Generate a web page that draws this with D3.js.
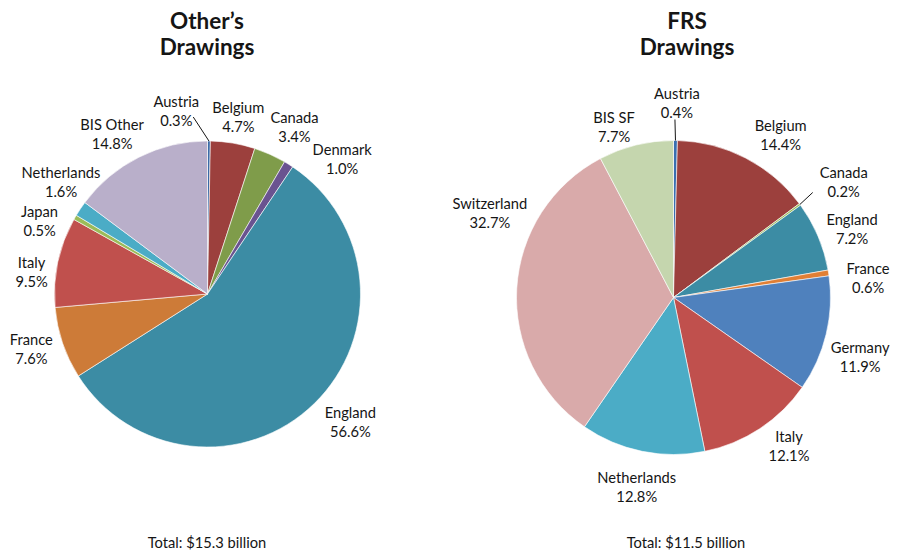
<!DOCTYPE html>
<html>
<head>
<meta charset="utf-8">
<script src="https://cdn.jsdelivr.net/npm/d3@7"></script>
<style>
  body { margin: 0; background: #fff; }
  svg text { font-family: Lato, "Open Sans", sans-serif; fill: #151515; }
</style>
</head>
<body>
<div id="chart"></div>
<script>
// Other's drawings
var otherNames = ["Austria", "Belgium", "Canada", "Denmark", "England", "France", "Italy", "Japan", "Netherlands", "BIS Other"];
var otherValues = [0.3, 4.7, 3.4, 1.0, 56.6, 7.6, 9.5, 0.5, 1.6, 14.8];
var otherColors = ["#3b6aa6", "#9c403d", "#7f9c4a", "#6a5390", "#3c8ca4", "#cd7b38", "#c0504d", "#9bbb59", "#4bacc6", "#b9afca"];

// FRS drawings
var frsNames = ["Austria", "Belgium", "Canada", "England", "France", "Germany", "Italy", "Netherlands", "Switzerland", "BIS SF"];
var frsValues = [0.4, 14.4, 0.2, 7.2, 0.6, 11.9, 12.1, 12.8, 32.7, 7.7];
var frsColors = ["#3a6fb0", "#9c403d", "#9bbb59", "#3c8ca4", "#e07f35", "#4f81bd", "#c0504d", "#4bacc6", "#d9aaaa", "#c5d6ae"];

var titles = [["Other\u2019s", "Drawings"], ["FRS", "Drawings"]];
var totals = ["Total: $15.3 billion", "Total: $11.5 billion"];

var width = 899, height = 560;

var svg = d3.select("#chart")
    .append("svg")
    .attr("width", width)
    .attr("height", height);

// Label nudges (best-fit placement like the original)
var otherLayout = {
    cx: 207.5, cy: 294, r: 153, labelR: 186, titleX: 207, totalX: 207,
    nudge: {"Austria": [-33, 3], "Belgium": [0, 7], "Canada": [11, 3], "Denmark": [36, 23],
            "England": [13, -5], "France": [0, -4], "Italy": [6, 17], "Japan": [-7, 21],
            "Netherlands": [8, -8], "BIS Other": [-12, 7]},
    leader: {"Austria": [17, 6]}
};
var frsLayout = {
    cx: 673.5, cy: 297.5, r: 157, labelR: 194, titleX: 687, totalX: 686,
    nudge: {"Austria": [1, 0], "Belgium": [18, 10], "Canada": [14, 0], "England": [0, 8],
            "France": [3, 11], "Germany": [-2, 15], "Italy": [9, -13], "Netherlands": [2, 0],
            "Switzerland": [10, -72], "BIS SF": [-13, 18]},
    leader: {"Austria": [-2, 16], "Canada": [-31, 10]}
};

function drawPie(names, values, colors, layout, title, total) {
    var data = names.map(function(n, i) { return {name: n, value: values[i]}; });

    var pie = d3.pie().sort(null).value(function(d) { return d.value; });
    var arc = d3.arc().innerRadius(0).outerRadius(layout.r);
    var arcs = pie(data);

    var g = svg.append("g")
        .attr("transform", "translate(" + layout.cx + "," + layout.cy + ")");

    g.selectAll("path")
        .data(arcs)
        .enter()
        .append("path")
        .attr("d", arc)
        .attr("fill", function(d, i) { return colors[i]; })
        .attr("stroke", "#fff")
        .attr("stroke-width", 0.6);

    // Data labels
    arcs.forEach(function(d) {
        var a = (d.startAngle + d.endAngle) / 2;
        var n = layout.nudge[d.data.name] || [0, 0];
        var lx = layout.labelR * Math.sin(a) + n[0];
        var ly = -layout.labelR * Math.cos(a) + n[1];

        var t = g.append("text")
            .attr("text-anchor", "middle")
            .style("font-size", "14.7px");
        t.append("tspan").attr("x", lx).attr("y", ly - 4.5).text(d.data.name);
        t.append("tspan").attr("x", lx).attr("y", ly + 14.5).text(d.data.value.toFixed(1) + "%");

        // Leader line for thin slices
        var ld = layout.leader[d.data.name];
        if (ld) {
            g.append("line")
                .attr("x1", lx + ld[0])
                .attr("y1", ly + ld[1])
                .attr("x2", layout.r * Math.sin(a))
                .attr("y2", -layout.r * Math.cos(a))
                .attr("stroke", "#151515")
                .attr("stroke-width", 1);
        }
    });

    // Title
    var tt = svg.append("text")
        .attr("text-anchor", "middle")
        .style("font-size", "22.5px")
        .style("font-weight", "bold");
    tt.append("tspan").attr("x", layout.titleX).attr("y", 29).text(title[0]);
    tt.append("tspan").attr("x", layout.titleX).attr("y", 55).text(title[1]);

    // Total
    svg.append("text")
        .attr("x", layout.totalX)
        .attr("y", 548)
        .attr("text-anchor", "middle")
        .style("font-size", "14.7px")
        .text(total);
}

drawPie(otherNames, otherValues, otherColors, otherLayout, titles[0], totals[0]);
drawPie(frsNames, frsValues, frsColors, frsLayout, titles[1], totals[1]);
</script>
</body>
</html>
